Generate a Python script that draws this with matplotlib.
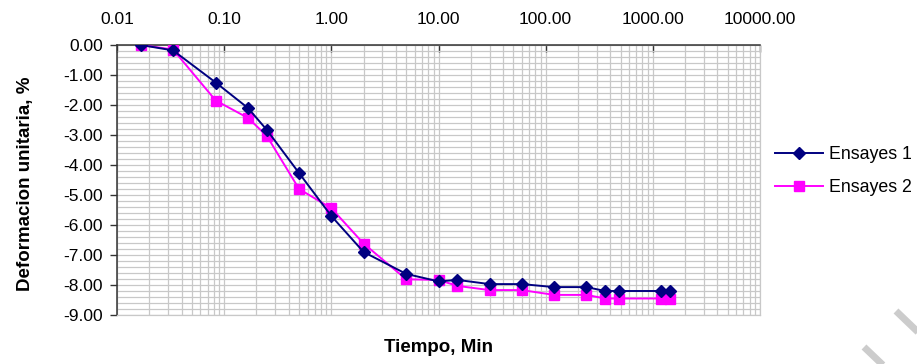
import matplotlib
matplotlib.use("Agg")
import matplotlib.pyplot as plt
from matplotlib.ticker import FixedLocator, LogLocator, MultipleLocator, FormatStrFormatter, NullFormatter
from matplotlib.lines import Line2D

plt.rcParams["font.family"] = ["Liberation Sans", "DejaVu Sans"]

# tiempo de lectura en minutos
tiempo = [1 / 60, 2 / 60, 5 / 60, 10 / 60, 15 / 60, 0.5, 1, 2, 5, 10, 15,
          30, 60, 120, 240, 360, 480, 1200, 1440]
ensayes_1 = [0.0, -0.18, -1.25, -2.10, -2.83, -4.27, -5.70, -6.90, -7.63, -7.88,
             -7.83, -7.97, -7.97, -8.07, -8.07, -8.20, -8.20, -8.20, -8.20]
ensayes_2 = [0.0, -0.15, -1.85, -2.43, -3.03, -4.80, -5.44, -6.62, -7.81, -7.83,
             -8.03, -8.17, -8.17, -8.33, -8.33, -8.45, -8.45, -8.45, -8.45]
nombres = ["Ensayes 1", "Ensayes 2"]
x_ticks = [0.01, 0.1, 1, 10, 100, 1000, 10000]

fig = plt.figure(figsize=(9.17, 3.64), dpi=100)
ax = fig.add_axes([117 / 917, 1 - 315 / 364, (760 - 117) / 917, (315 - 45) / 364])

ax.plot(tiempo, ensayes_1, color="#000080", lw=1.4, marker="D", ms=6.5,
        label=nombres[0], zorder=4)
ax.plot(tiempo, ensayes_2, color="#FF00FF", lw=1.4, marker="s", ms=6.5,
        label=nombres[1], zorder=3)

ax.set_xscale("log")
ax.set_xlim(0.01, 10000)
ax.set_ylim(-9, 0)

ax.xaxis.set_major_locator(FixedLocator(x_ticks))
ax.xaxis.set_minor_locator(LogLocator(base=10, subs=range(2, 10), numticks=100))
ax.xaxis.set_major_formatter(FormatStrFormatter("%.2f"))
ax.xaxis.set_minor_formatter(NullFormatter())
ax.yaxis.set_major_locator(MultipleLocator(1))
ax.yaxis.set_minor_locator(MultipleLocator(0.2))
ax.yaxis.set_major_formatter(FormatStrFormatter("%.2f"))

ax.xaxis.tick_top()
ax.tick_params(axis="x", which="major", direction="in", length=5, width=1,
               color="#333333", pad=13, labelsize=12.5)
ax.tick_params(axis="y", which="major", direction="out", length=5, width=1,
               color="#333333", pad=5, labelsize=12.5)
ax.tick_params(which="minor", length=0)

ax.grid(True, which="both", color="#c8c8c8", lw=0.9)
ax.set_axisbelow(True)
for s in ("top", "left"):
    ax.spines[s].set_color("#333333")
    ax.spines[s].set_linewidth(1.1)
for s in ("bottom", "right"):
    ax.spines[s].set_color("#c8c8c8")
    ax.spines[s].set_linewidth(0.9)

fig.text(25.5 / 917, 1 - 184 / 364, "Deformacion unitaria, %", fontsize=13.5,
         fontweight="bold", rotation=90, ha="center", va="center")
fig.text(438 / 917, 1 - 348 / 364, "Tiempo, Min", fontsize=13.5, fontweight="bold",
         ha="center", va="center")

fig.legend(loc="center left", bbox_to_anchor=(775 / 917, 1 - 171 / 364),
           frameon=False, fontsize=12.8, handlelength=2.7, handletextpad=0.35,
           labelspacing=0.9, borderpad=0, borderaxespad=0)

# trazos grises en la esquina inferior derecha
for (x0, y0), (x1, y1) in [((864, 347), (886, 368)), ((896, 311), (920, 334))]:
    fig.add_artist(Line2D([x0 / 917, x1 / 917], [1 - y0 / 364, 1 - y1 / 364],
                          transform=fig.transFigure, color="#cccccc", lw=5,
                          solid_capstyle="butt"))

fig.savefig("out.png", dpi=100)
